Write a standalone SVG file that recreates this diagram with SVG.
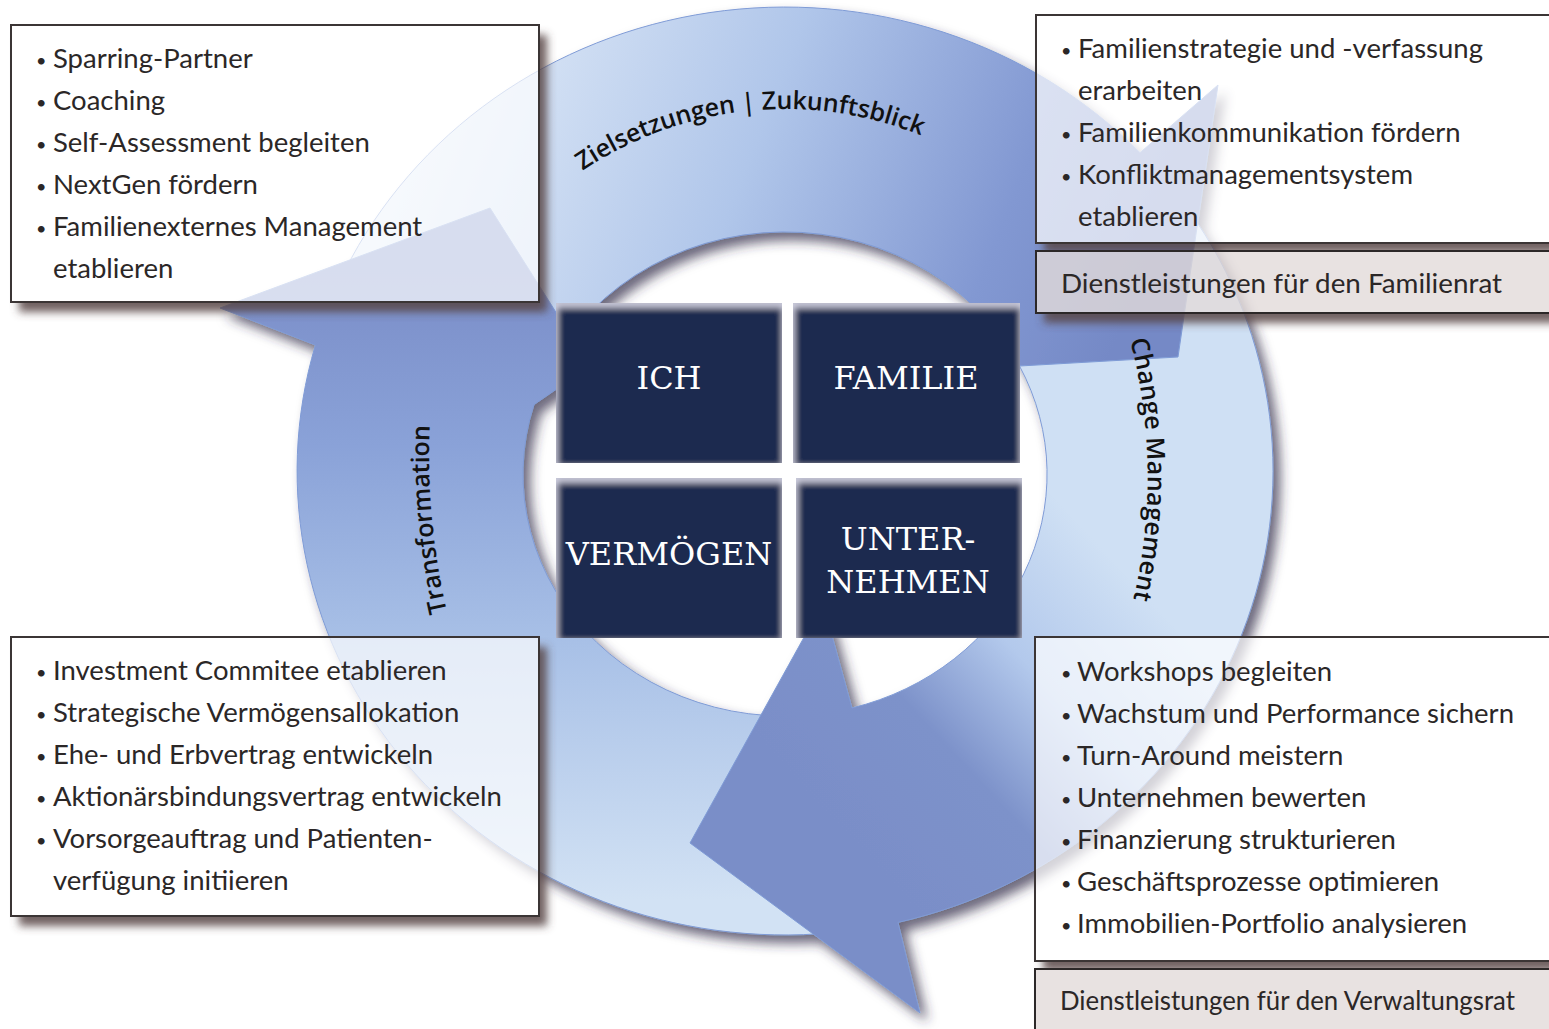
<svg xmlns="http://www.w3.org/2000/svg" width="1549" height="1029" viewBox="0 0 1549 1029">
  <style>
    .t { font-family: Lato, "Open Sans", "Liberation Sans", sans-serif; font-size: 27.5px; fill: #2b2727; }
    .b { font-size: 18px; }
    .sq { fill: #1f2a50; filter: url(#bevel); }
    .sqt { font-family: "DejaVu Serif", "Liberation Serif", serif; font-size: 32px; fill: #ffffff; text-anchor: middle; }
    .lbl { font-family: "Open Sans", "Liberation Sans", sans-serif; font-size: 25px; font-weight: 600; fill: #111111; }
    .box { fill: #ffffff; fill-opacity: 0.7; stroke: #3b3535; stroke-width: 2; }
    .box2 { fill: #e2dbda; fill-opacity: 0.8; stroke: #2c2828; stroke-width: 2; }
    .arrow { stroke: #7f9bd6; stroke-width: 1; }
    .shadow { fill: #574646; fill-opacity: 0.85; }
  </style>
  <defs>
    <linearGradient id="gTrans" gradientUnits="userSpaceOnUse" x1="0" y1="900" x2="0" y2="270">
      <stop offset="0" stop-color="#d2e2f4"/>
      <stop offset="0.4" stop-color="#a9c1e7"/>
      <stop offset="0.72" stop-color="#8aa2d8"/>
      <stop offset="1" stop-color="#7a8dc8"/>
    </linearGradient>
    <linearGradient id="gZiel" gradientUnits="userSpaceOnUse" x1="430" y1="60" x2="1120" y2="330">
      <stop offset="0" stop-color="#e2ecf8"/>
      <stop offset="0.45" stop-color="#b0c6ea"/>
      <stop offset="0.8" stop-color="#8298d2"/>
      <stop offset="1" stop-color="#7589c6"/>
    </linearGradient>
    <linearGradient id="gChange" gradientUnits="userSpaceOnUse" x1="1150" y1="600" x2="870" y2="860">
      <stop offset="0" stop-color="#cfe0f4"/>
      <stop offset="0.35" stop-color="#b3c9ec"/>
      <stop offset="0.65" stop-color="#7d92ca"/>
      <stop offset="1" stop-color="#7a8ec8"/>
    </linearGradient>
    <filter id="ringShadow" x="-10%" y="-10%" width="125%" height="125%">
      <feDropShadow dx="7" dy="8" stdDeviation="6" flood-color="#2e2544" flood-opacity="0.7"/>
    </filter>
    <filter id="boxShadow" x="-5%" y="-5%" width="115%" height="115%">
      <feGaussianBlur stdDeviation="4"/>
    </filter>
    <filter id="bevel" x="-5%" y="-5%" width="110%" height="110%">
      <feFlood flood-color="#d8d8e8" result="c"/>
      <feComposite in="c" in2="SourceAlpha" operator="out" result="outside"/>
      <feGaussianBlur in="outside" stdDeviation="3.5" result="ob"/>
      <feOffset in="ob" dx="1" dy="4" result="oo"/>
      <feComposite in="oo" in2="SourceAlpha" operator="in" result="inner"/>
      <feMerge><feMergeNode in="SourceGraphic"/><feMergeNode in="inner"/></feMerge>
    </filter>
    <mask id="boxHoles" maskUnits="userSpaceOnUse" x="0" y="0" width="1549" height="1029">
      <rect width="1549" height="1029" fill="#fff"/>
      <rect x="11" y="25" width="528" height="277" fill="#000"/>
      <rect x="1036" y="15" width="530" height="228" fill="#000"/>
      <rect x="1036" y="251" width="530" height="62" fill="#000"/>
      <rect x="11" y="637" width="528" height="279" fill="#000"/>
      <rect x="1035" y="637" width="530" height="324" fill="#000"/>
      <rect x="1035" y="969" width="530" height="80" fill="#000"/>
    </mask>
  </defs>

  <rect width="1549" height="1029" fill="#ffffff"/>

  <!-- cycle of three curved arrows -->
  <g id="connectors" filter="url(#ringShadow)">
    <path id="arrow-zielsetzungen" class="arrow" fill="url(#gZiel)"
      d="M345,270.3 A488,464 0 0 1 1140,152.7 L1218,85 L1178,357 L1019.5,366 A262,242 0 0 0 534,404.6 Z"/>
    <path id="arrow-transformation" class="arrow" fill="url(#gTrans)"
      d="M818,933.9 A488,464 0 0 1 315.4,345 L220,308 L490,208 L590,366 L534,404.6 A262,242 0 0 0 852,708 Z"/>
    <path id="arrow-change" class="arrow" fill="url(#gChange)"
      d="M1197.6,223.2 A488,464 0 0 1 898,922.4 L920,1013 L690,843 L823,603 L852,708 A262,242 0 0 0 1019.5,366 L1178,357 Z"/>
  </g>

  <g id="ring-labels">
    <path id="pZiel" d="M552.3,193.7 A362,362 0 0 1 1017.7,193.7" fill="none"/>
    <path id="pChange" d="M1130,340 A536,536 0 0 1 1132,605" fill="none"/>
    <path id="pTrans" d="M447,612 A700,700 0 0 1 430,420" fill="none"/>
    <text class="lbl"><textPath href="#pZiel" startOffset="38" textLength="354" lengthAdjust="spacing">Zielsetzungen | Zukunftsblick</textPath></text>
    <text class="lbl"><textPath href="#pChange" startOffset="0" textLength="262" lengthAdjust="spacing">Change Management</textPath></text>
    <text class="lbl"><textPath href="#pTrans" startOffset="0" textLength="188" lengthAdjust="spacing">Transformation</textPath></text>
  </g>

  <!-- four central fields -->
  <g id="node-ich">
    <rect class="sq" x="556" y="303" width="226" height="160"/>
    <text class="sqt" x="669" y="389">ICH</text>
  </g>
  <g id="node-familie">
    <rect class="sq" x="793" y="303" width="227" height="160"/>
    <text class="sqt" x="906" y="389">FAMILIE</text>
  </g>
  <g id="node-vermoegen">
    <rect class="sq" x="556" y="478" width="226" height="160"/>
    <text class="sqt" x="669" y="565">VERMÖGEN</text>
  </g>
  <g id="node-unternehmen">
    <rect class="sq" x="796" y="478" width="226" height="160"/>
    <text class="sqt" x="908" y="550">UNTER-</text>
    <text class="sqt" x="908" y="593">NEHMEN</text>
  </g>

  <!-- soft shadows behind the text panels -->
  <g id="panel-shadows" mask="url(#boxHoles)">
    <g filter="url(#boxShadow)">
      <rect class="shadow" x="19" y="35" width="528" height="277"/>
      <rect class="shadow" x="1044" y="25" width="530" height="228"/>
      <rect class="shadow" x="1044" y="261" width="530" height="62"/>
      <rect class="shadow" x="19" y="647" width="528" height="279"/>
      <rect class="shadow" x="1043" y="647" width="530" height="324"/>
      <rect class="shadow" x="1043" y="979" width="530" height="80"/>
    </g>
  </g>

  <g id="panel-ich">
    <rect class="box" x="11" y="25" width="528" height="277"/>
    <text class="t" x="36" y="67"><tspan class="b">•</tspan><tspan x="53" y="68">Sparring-Partner</tspan></text>
    <text class="t" x="36" y="109"><tspan class="b">•</tspan><tspan x="53" y="110">Coaching</tspan></text>
    <text class="t" x="36" y="151"><tspan class="b">•</tspan><tspan x="53" y="152">Self-Assessment begleiten</tspan></text>
    <text class="t" x="36" y="193"><tspan class="b">•</tspan><tspan x="53" y="194">NextGen fördern</tspan></text>
    <text class="t" x="36" y="235"><tspan class="b">•</tspan><tspan x="53" y="236">Familienexternes Management</tspan></text>
    <text class="t" x="53" y="278">etablieren</text>
  </g>

  <g id="panel-familie">
    <rect class="box" x="1036" y="15" width="530" height="228"/>
    <text class="t" x="1061" y="57"><tspan class="b">•</tspan><tspan x="1078" y="58">Familienstrategie und -verfassung</tspan></text>
    <text class="t" x="1078" y="100">erarbeiten</text>
    <text class="t" x="1061" y="141"><tspan class="b">•</tspan><tspan x="1078" y="142">Familienkommunikation fördern</tspan></text>
    <text class="t" x="1061" y="183"><tspan class="b">•</tspan><tspan x="1078" y="184">Konfliktmanagementsystem</tspan></text>
    <text class="t" x="1078" y="226">etablieren</text>
  </g>
  <g id="panel-familienrat">
    <rect class="box2" x="1036" y="251" width="530" height="62"/>
    <text class="t" x="1061" y="293" textLength="441" lengthAdjust="spacingAndGlyphs">Dienstleistungen für den Familienrat</text>
  </g>

  <g id="panel-vermoegen">
    <rect class="box" x="11" y="637" width="528" height="279"/>
    <text class="t" x="36" y="679"><tspan class="b">•</tspan><tspan x="53" y="680">Investment Commitee etablieren</tspan></text>
    <text class="t" x="36" y="721"><tspan class="b">•</tspan><tspan x="53" y="722">Strategische Vermögensallokation</tspan></text>
    <text class="t" x="36" y="763"><tspan class="b">•</tspan><tspan x="53" y="764">Ehe- und Erbvertrag entwickeln</tspan></text>
    <text class="t" x="36" y="805"><tspan class="b">•</tspan><tspan x="53" y="806">Aktionärsbindungsvertrag entwickeln</tspan></text>
    <text class="t" x="36" y="847"><tspan class="b">•</tspan><tspan x="53" y="848">Vorsorgeauftrag und Patienten-</tspan></text>
    <text class="t" x="53" y="890">verfügung initiieren</text>
  </g>

  <g id="panel-unternehmen">
    <rect class="box" x="1035" y="637" width="530" height="324"/>
    <text class="t" x="1061" y="680"><tspan class="b">•</tspan><tspan x="1077" y="681">Workshops begleiten</tspan></text>
    <text class="t" x="1061" y="722"><tspan class="b">•</tspan><tspan x="1077" y="723">Wachstum und Performance sichern</tspan></text>
    <text class="t" x="1061" y="764"><tspan class="b">•</tspan><tspan x="1077" y="765">Turn-Around meistern</tspan></text>
    <text class="t" x="1061" y="806"><tspan class="b">•</tspan><tspan x="1077" y="807">Unternehmen bewerten</tspan></text>
    <text class="t" x="1061" y="848"><tspan class="b">•</tspan><tspan x="1077" y="849">Finanzierung strukturieren</tspan></text>
    <text class="t" x="1061" y="890"><tspan class="b">•</tspan><tspan x="1077" y="891">Geschäftsprozesse optimieren</tspan></text>
    <text class="t" x="1061" y="932"><tspan class="b">•</tspan><tspan x="1077" y="933">Immobilien-Portfolio analysieren</tspan></text>
  </g>
  <g id="panel-verwaltungsrat">
    <rect class="box2" x="1035" y="969" width="530" height="80"/>
    <text class="t" x="1060" y="1010" textLength="455" lengthAdjust="spacingAndGlyphs">Dienstleistungen für den Verwaltungsrat</text>
  </g>
</svg>
